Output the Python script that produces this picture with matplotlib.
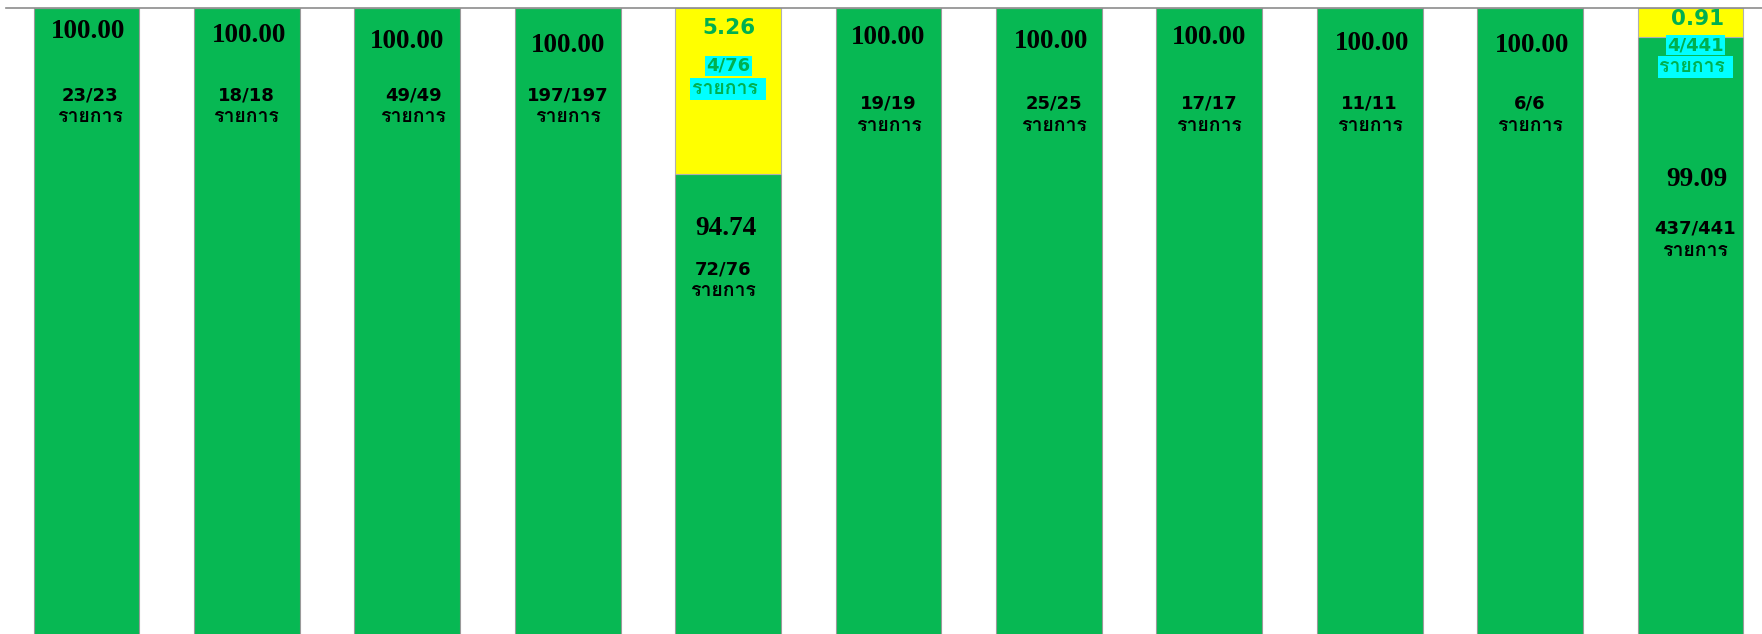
import matplotlib
matplotlib.use("Agg")
import matplotlib.pyplot as plt
from matplotlib import font_manager as fm
from matplotlib import patheffects as pe
from matplotlib.ft2font import FT2Font

# ---------------- data ----------------
categories = list(range(11))
green_pct = [100.00, 100.00, 100.00, 100.00, 94.74, 100.00, 100.00, 100.00, 100.00, 100.00, 99.09]
yellow_pct = [0, 0, 0, 0, 5.26, 0, 0, 0, 0, 0, 0.91]
green_counts = ["23/23", "18/18", "49/49", "197/197", "72/76", "19/19", "25/25", "17/17", "11/11", "6/6", "437/441"]
yellow_counts = ["", "", "", "", "4/76", "", "", "", "", "", "4/441"]
unit_label = "รายการ"

# ---------------- label layout (pixel offsets below segment top) ----------------
# (dx_pct, dy_pct, dx_cnt, dy_cnt, dy_unit)
green_lab_off = [
    (2, 23, 3, 88, 109),
    (2, 28, -1, 88, 109),
    (0, 33, 6, 88, 109),
    (0, 37, 0, 88, 109),
    (-2, 54, -5, 95, 117),
    (0, 29, 0, 95, 118),
    (2, 33, 5, 95, 118),
    (0, 29, 0, 95, 118),
    (2, 36, 0, 95, 118),
    (2, 37, 0, 95, 118),
    (6, 143, 4, 192, 214),
]
yellow_lab_off = {4: (1, 20, 0, 58, 81), 10: (7, 11, 5, 37, 59)}

GREEN = "#07B853"
YELLOW = "#FFFF00"
CYAN = "#00FFFF"
TXT_GREEN = "#00B050"


def find_thai_font():
    best = None
    for f in fm.fontManager.ttflist:
        try:
            cm = FT2Font(f.fname).get_charmap()
        except Exception:
            continue
        if 0x0E23 in cm and 0x0E32 in cm:
            if f.weight in ("bold", 700) or str(f.weight) == "700":
                return f.name, True
            if best is None:
                best = f.name
    return best, False


thai, thai_is_bold = find_thai_font()
sans_fams = ["DejaVu Sans"] + ([thai] if thai else [])

W, H, DPI = 1762, 634, 100
fig = plt.figure(figsize=(W / DPI, H / DPI), dpi=DPI)
fig.patch.set_facecolor("white")

px_per_unit = 31.6
top_px = 8
ax_h_px = H - top_px
ax_left_px = 6.3
ax_w_px = 11 * 160.4
ax = fig.add_axes([ax_left_px / W, 0, ax_w_px / W, ax_h_px / H])
ax.set_xlim(-0.5, 10.5)
ax.set_ylim(100 - ax_h_px / px_per_unit, 100)

bw = 0.66
ax.bar(categories, green_pct, width=bw, color=GREEN, edgecolor="#9a9a9a", linewidth=0.8, zorder=2)
ax.bar(categories, yellow_pct, width=bw, bottom=green_pct, color=YELLOW, edgecolor="#b0b0b0",
       linewidth=0.8, zorder=2)

for s in ["left", "right", "bottom"]:
    ax.spines[s].set_visible(False)
ax.spines["top"].set_color("#8c8c8c")
ax.spines["top"].set_linewidth(1.2)
ax.set_xticks([])
ax.set_yticks([])
ax.set_facecolor("white")

PCT_FS = 19.5
CNT_FS = 13
UNIT_FS = 14


def unit_fx(color):
    if thai_is_bold:
        return None
    return [pe.withStroke(linewidth=0.9, foreground=color)]


# green segment labels
for i in categories:
    dxp, dyp, dxc, dyc, dyu = green_lab_off[i]
    top = green_pct[i]
    ax.annotate(f"{green_pct[i]:.2f}", xy=(i, top), xytext=(dxp, -dyp), textcoords="offset pixels",
                ha="center", va="center", family="Liberation Serif", weight="bold", fontsize=PCT_FS,
                color="black", zorder=5)
    ax.annotate(green_counts[i], xy=(i, top), xytext=(dxc, -dyc), textcoords="offset pixels",
                ha="center", va="center", family=sans_fams, weight="bold", fontsize=CNT_FS,
                color="black", zorder=5)
    ax.annotate(unit_label, xy=(i, top), xytext=(dxc, -dyu), textcoords="offset pixels",
                ha="center", va="center", family=sans_fams[::-1], weight="bold", fontsize=UNIT_FS,
                color="black", zorder=5, path_effects=unit_fx("black"))

# yellow segment labels
for i, (dxp, dyp, dxc, dyc, dyu) in yellow_lab_off.items():
    top = green_pct[i] + yellow_pct[i]
    ax.annotate(f"{yellow_pct[i]:.2f}", xy=(i, top), xytext=(dxp, -dyp), textcoords="offset pixels",
                ha="center", va="center", family="DejaVu Sans", weight="bold", fontsize=15.5,
                color=TXT_GREEN, zorder=5)
    box = dict(boxstyle="square,pad=0.08", facecolor=CYAN, edgecolor="none")
    ax.annotate(yellow_counts[i], xy=(i, top), xytext=(dxc, -dyc), textcoords="offset pixels",
                ha="center", va="center", family=sans_fams, weight="bold", fontsize=CNT_FS,
                color=TXT_GREEN, bbox=box, zorder=5)
    ax.annotate(unit_label + " ", xy=(i, top), xytext=(dxc, -dyu), textcoords="offset pixels",
                ha="center", va="center", family=sans_fams[::-1], weight="bold", fontsize=UNIT_FS,
                color=TXT_GREEN, bbox=box, zorder=5, path_effects=unit_fx(TXT_GREEN))

fig.savefig("out.png", dpi=DPI, facecolor="white")
